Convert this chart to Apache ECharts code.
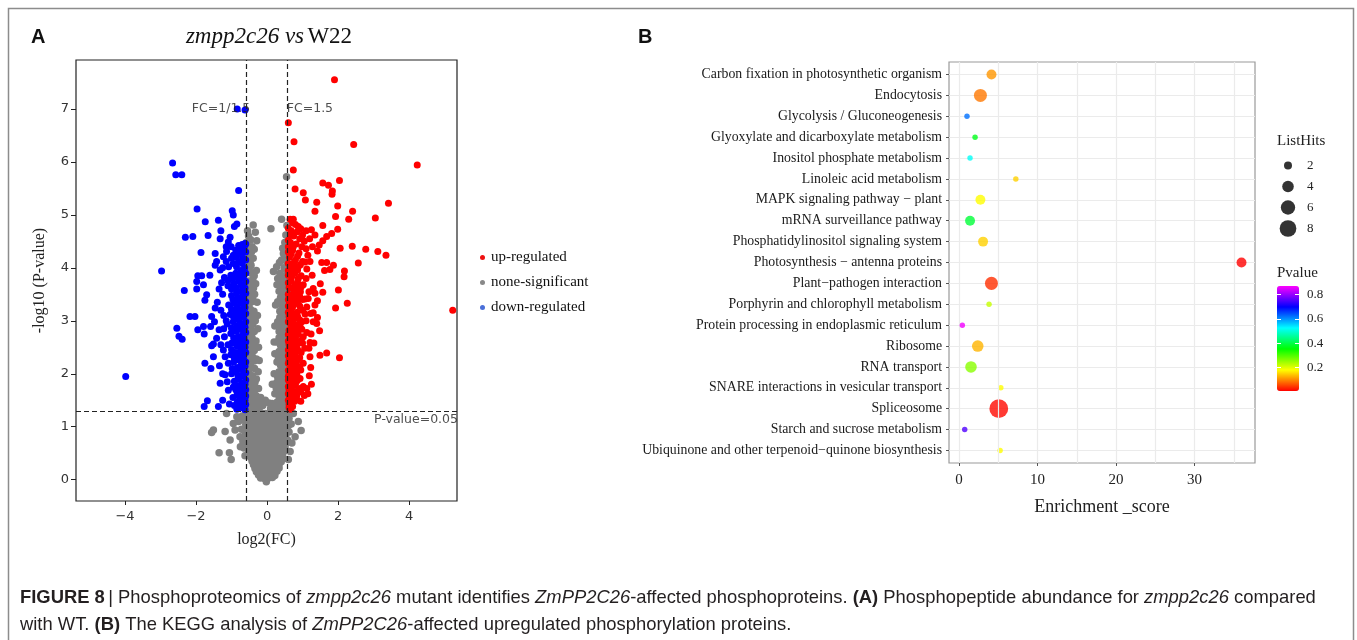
<!DOCTYPE html>
<html>
<head>
<meta charset="utf-8">
<script src="https://cdn.jsdelivr.net/npm/echarts@6/dist/echarts.min.js"></script>
<style>
html,body{margin:0;padding:0;background:#fff;}
#chart{width:1357px;height:640px;}
</style>
</head>
<body>
<div id="chart"></div>
<script>
// ---------- Panel A: volcano plot data (log2FC, -log10 P) ----------
const upRegulated = [
[1.90,7.55],[0.60,6.74],[0.76,6.38],[2.44,6.33],[4.23,5.94],[0.74,5.85],[1.57,5.60],[1.73,5.56],[2.04,5.65],[1.84,5.45],
[1.83,5.39],[0.79,5.49],[1.02,5.42],[1.08,5.28],[1.40,5.24],[3.42,5.22],[1.99,5.17],[1.35,5.07],[2.41,5.07],[3.05,4.94],
[2.30,4.92],[1.93,4.97],[1.57,4.80],[1.99,4.73],[1.82,4.65],[1.68,4.59],[1.57,4.51],[1.47,4.43],[1.42,4.32],[2.78,4.35],
[3.12,4.31],[3.35,4.24],[2.40,4.41],[2.06,4.37],[2.57,4.09],[2.18,3.94],[2.17,3.83],[1.21,4.12],[1.07,4.11],[1.54,4.10],
[1.68,4.10],[1.87,4.05],[1.77,3.97],[1.27,3.86],[1.30,3.61],[1.35,3.52],[1.57,3.54],[2.01,3.58],[1.16,3.42],[1.07,3.41],
[1.42,3.38],[2.26,3.33],[1.93,3.24],[5.23,3.20],[1.23,3.14],[1.07,3.13],[1.30,3.15],[1.42,3.06],[1.30,2.98],[1.24,2.75],
[1.48,2.81],[0.98,2.98],[0.93,2.89],[1.02,2.70],[1.21,2.59],[1.00,2.58],[1.49,2.35],[1.68,2.39],[2.04,2.30],[1.21,2.32],
[1.23,2.12],[0.95,2.07],[0.93,1.91],[1.19,1.96],[1.02,1.76],[1.05,1.59],[0.95,1.48],[0.70,1.52],
[0.72,4.85],[0.80,4.82],[0.88,4.78],[0.95,4.74],[0.68,4.70],[0.85,4.68],[1.00,4.62],[0.75,4.60],[0.92,4.55],[1.05,4.50],
[0.66,4.48],[0.82,4.45],[0.98,4.40],[1.10,4.36],[0.72,4.33],[0.90,4.28],[1.15,4.24],[0.63,4.20],[0.80,4.15],[1.00,4.12],
[0.70,4.05],[0.88,4.02],[1.12,3.98],[0.64,3.93],[0.78,3.90],[0.96,3.85],[1.10,3.80],[0.68,3.76],[0.86,3.72],[1.02,3.68],
[0.62,3.63],[0.76,3.58],[0.94,3.55],[1.18,3.55],[0.70,3.48],[0.84,3.45],[1.00,3.40],[0.63,3.36],[0.78,3.32],[0.92,3.28],
[1.12,3.26],[0.68,3.20],[0.85,3.16],[0.62,3.08],[0.76,3.04],[0.92,3.02],[1.10,3.00],[0.66,2.94],[0.82,2.90],[0.62,2.82],
[0.74,2.78],[0.88,2.74],[1.12,2.78],[0.66,2.68],[0.80,2.64],[0.94,2.62],[0.62,2.55],[0.74,2.50],[0.86,2.46],[1.06,2.48],
[0.65,2.40],[0.78,2.36],[0.92,2.30],[0.62,2.25],[0.72,2.20],[0.84,2.16],[1.02,2.20],[0.66,2.10],[0.78,2.04],[0.62,1.98],
[0.72,1.92],[0.86,1.88],[0.65,1.82],[0.78,1.78],[0.90,1.72],[0.62,1.70],[0.72,1.64],[0.84,1.60],[0.64,1.55],[0.78,1.48],
[0.62,1.42],[0.72,1.38],[0.66,1.33],[1.12,1.72],[1.15,1.62],[0.95,1.66],[1.25,1.80],[1.18,2.48],[1.32,2.58],[1.40,2.95],
[1.35,3.30],[1.50,3.70],[1.62,3.95],[1.28,4.40],[1.20,4.55],[1.35,4.62],[1.10,4.70],[1.25,4.72],
[0.60,4.75],[0.66,4.62],[0.60,4.52],[0.74,4.40],[0.60,4.30],[0.68,4.26],[0.86,4.22],[0.76,4.10],[0.94,4.06],[0.60,4.08],
[0.70,3.98],[0.86,3.96],[0.60,3.86],[0.70,3.84],[0.88,3.80],[0.78,3.68],[0.96,3.64],[0.60,3.72],[0.68,3.62],[0.86,3.60],
[0.60,3.50],[0.78,3.50],[0.92,3.46],[0.70,3.40],[0.86,3.36],[0.60,3.28],[0.72,3.26],[1.00,3.20],[0.78,3.12],[0.60,3.16],
[0.70,3.10],[0.86,3.08],[0.60,2.98],[0.74,2.96],[0.90,2.94],[0.70,2.86],[0.84,2.82],[0.98,2.84],[0.60,2.74],[0.80,2.72],
[0.70,2.60],[0.86,2.56],[0.60,2.62],[0.70,2.48],[0.80,2.42],[0.96,2.40],[0.60,2.34],[0.72,2.30],[0.86,2.26],[0.66,2.18],
[0.78,2.12],[0.92,2.12],[0.60,2.06],[0.72,2.00],[0.84,1.98],[0.60,1.88],[0.70,1.80],[0.82,1.84],[0.60,1.76],[0.68,1.70],
[0.80,1.66],[0.60,1.62],[0.70,1.56],[0.70,1.46],[0.60,1.50],[0.68,1.40],[0.62,1.36],[0.84,1.52],[0.60,1.95],[0.60,2.20],
[0.60,2.45],[0.60,3.40],[0.60,3.95],[0.60,4.40],[0.65,4.92],[0.74,4.92]
];
const downRegulated = [
[-0.84,7.00],[-0.62,6.98],[-2.66,5.98],[-2.57,5.76],[-2.40,5.76],[-0.80,5.46],[-1.97,5.11],[-0.98,5.08],[-0.95,5.00],[-1.37,4.90],
[-1.74,4.87],[-0.85,4.83],[-0.92,4.78],[-1.30,4.70],[-2.30,4.58],[-2.09,4.59],[-1.66,4.61],[-1.32,4.55],[-1.04,4.58],[-1.09,4.49],
[-1.01,4.40],[-1.14,4.31],[-0.62,4.46],[-1.86,4.29],[-1.46,4.27],[-1.23,4.21],[-0.95,4.24],[-0.81,4.27],[-2.97,3.94],[-1.95,3.85],
[-1.84,3.85],[-1.61,3.86],[-1.46,4.05],[-1.42,4.12],[-1.32,3.96],[-1.15,4.12],[-2.33,3.57],[-1.98,3.74],[-1.98,3.60],[-1.79,3.68],
[-1.70,3.49],[-1.75,3.39],[-2.17,3.08],[-2.03,3.08],[-2.54,2.86],[-2.48,2.71],[-2.39,2.65],[-1.95,2.83],[-1.77,2.75],[-1.79,2.89],
[-1.59,2.89],[-1.56,3.08],[-1.46,3.24],[-1.48,2.98],[-1.35,2.83],[-1.42,2.67],[-1.51,2.56],[-1.56,2.53],[-3.98,1.95],[-1.75,2.20],
[-1.58,2.10],[-1.34,2.15],[-1.51,2.32],[-1.32,1.82],[-1.18,1.98],[-1.09,1.69],[-1.68,1.49],[-1.77,1.38],[-1.37,1.38],[-1.25,1.50],
[-1.06,1.43],[-0.85,1.33],[-1.23,2.45],[-1.18,2.32],[-1.09,2.20],[-0.99,2.58],
[-0.64,4.40],[-0.75,4.36],[-0.88,4.33],[-0.68,4.18],[-0.80,4.12],[-0.95,4.08],[-1.08,4.02],[-0.63,4.00],[-0.74,3.95],[-0.88,3.90],
[-1.02,3.86],[-1.20,3.82],[-0.66,3.80],[-0.80,3.74],[-0.94,3.70],[-1.10,3.66],[-0.62,3.62],[-0.72,3.56],[-0.86,3.52],[-1.00,3.48],
[-1.25,3.50],[-0.66,3.42],[-0.78,3.38],[-0.92,3.33],[-1.08,3.30],[-0.62,3.25],[-0.74,3.20],[-0.88,3.16],[-1.04,3.12],[-1.22,3.10],
[-0.66,3.06],[-0.80,3.02],[-0.95,2.98],[-1.12,2.94],[-0.62,2.88],[-0.72,2.84],[-0.86,2.80],[-1.02,2.76],[-1.20,2.70],[-0.65,2.68],
[-0.78,2.62],[-0.92,2.58],[-1.10,2.55],[-0.62,2.50],[-0.74,2.45],[-0.88,2.40],[-1.02,2.36],[-0.66,2.30],[-0.80,2.26],[-0.94,2.22],
[-0.62,2.14],[-0.72,2.08],[-0.86,2.04],[-1.00,2.00],[-0.66,1.96],[-0.78,1.90],[-0.92,1.86],[-0.62,1.80],[-0.74,1.74],[-0.88,1.70],
[-0.66,1.62],[-0.80,1.58],[-0.96,1.55],[-0.62,1.50],[-0.74,1.45],[-0.66,1.38],[-0.62,1.32],[-1.35,3.60],[-1.28,3.72],[-1.40,3.35],
[-1.30,3.20],[-1.15,3.00],[-1.30,2.55],[-1.22,2.85],[-1.25,2.00],[-1.12,1.85],[-0.95,1.75],[-1.15,4.40],[-1.25,4.00],
[-0.60,4.45],[-0.70,4.44],[-0.80,4.42],[-0.60,4.30],[-0.72,4.26],[-0.86,4.20],[-1.00,4.18],[-0.60,4.15],[-0.70,4.08],[-0.86,4.02],
[-0.60,3.90],[-0.68,3.86],[-0.80,3.84],[-0.96,3.80],[-1.10,3.76],[-0.60,3.74],[-0.72,3.68],[-0.86,3.62],[-1.00,3.60],[-0.60,3.52],
[-0.68,3.48],[-0.82,3.44],[-0.96,3.40],[-0.60,3.36],[-0.70,3.32],[-0.84,3.26],[-1.00,3.22],[-0.60,3.14],[-0.68,3.12],[-0.80,3.10],
[-0.94,3.06],[-0.60,2.98],[-0.72,2.94],[-0.86,2.90],[-1.00,2.86],[-0.60,2.78],[-0.68,2.74],[-0.80,2.70],[-0.94,2.68],[-0.60,2.60],
[-0.70,2.56],[-0.84,2.52],[-1.00,2.46],[-0.60,2.40],[-0.68,2.36],[-0.80,2.34],[-0.92,2.30],[-0.60,2.22],[-0.72,2.18],[-0.84,2.12],
[-0.98,2.10],[-0.60,2.02],[-0.68,1.98],[-0.82,1.96],[-0.60,1.88],[-0.70,1.82],[-0.82,1.78],[-0.60,1.70],[-0.70,1.66],[-0.84,1.62],
[-0.60,1.58],[-0.70,1.52],[-0.84,1.46],[-0.60,1.42],[-0.70,1.36],[-0.80,1.40],[-0.92,1.40]
];
const noneSignificant = [
[0.55,5.72],[0.41,4.92],[0.11,4.74],[-0.39,4.81],[-0.33,4.67],[-0.46,4.53],[-0.29,4.51],[-0.53,4.24],[-0.39,4.18],[-0.48,4.09],
[0.53,4.62],[0.44,4.37],[0.46,4.27],[0.41,4.15],[0.27,4.02],[0.18,3.93],[-0.55,4.70],[-0.50,4.40],[0.50,4.48],[0.56,4.10],
[-0.55,3.95],[-0.45,3.90],[-0.36,3.85],[-0.52,3.75],[-0.42,3.70],[-0.56,3.60],[-0.46,3.55],[-0.35,3.50],[-0.53,3.42],[-0.43,3.36],
[-0.57,3.28],[-0.47,3.22],[-0.37,3.18],[-0.54,3.10],[-0.44,3.04],[-0.33,3.00],[-0.56,2.92],[-0.46,2.86],[-0.36,2.80],[-0.53,2.74],
[-0.42,2.68],[-0.31,2.62],[-0.56,2.56],[-0.46,2.50],[-0.36,2.44],[-0.52,2.38],[-0.41,2.32],[-0.30,2.28],[-0.56,2.20],[-0.46,2.14],
[-0.35,2.10],[-0.25,2.04],[-0.52,2.02],[-0.41,1.96],[-0.30,1.90],[-0.56,1.86],[-0.46,1.80],[-0.36,1.76],[-0.24,1.72],[-0.52,1.68],
[-0.41,1.62],[-0.30,1.58],[-0.18,1.55],[-0.56,1.52],[-0.46,1.46],[-0.35,1.42],[-0.24,1.38],[-0.52,1.34],[-0.12,1.40],
[-0.50,3.98],[-0.40,3.78],[-0.58,3.70],[-0.48,3.64],[-0.38,3.62],[-0.58,3.48],[-0.48,3.46],[-0.40,3.40],[-0.50,3.32],[-0.58,3.18],
[-0.42,3.12],[-0.50,3.00],[-0.58,3.02],[-0.40,2.94],[-0.50,2.80],[-0.58,2.66],[-0.47,2.62],[-0.38,2.56],[-0.50,2.46],[-0.58,2.30],
[-0.48,2.28],[-0.36,2.24],[-0.50,2.08],[-0.58,1.96],[-0.44,1.90],[-0.34,1.84],[-0.50,1.74],[-0.58,1.62],[-0.36,1.66],[-0.48,1.56],
[-0.40,1.50],[-0.58,1.42],[-0.30,1.48],[-0.44,1.38],[-0.30,1.34],[-0.20,1.46],[-0.56,4.00],[-0.45,4.05],[-0.56,4.15],[-0.44,4.30],
[-0.52,4.60],[-0.42,4.40],[-0.58,4.48],[-0.36,4.35],[-0.30,3.95],[-0.32,3.70],[-0.28,3.35],[-0.27,3.10],[-0.26,2.85],[-0.24,2.50],
[-0.22,2.25],
[0.52,3.98],[0.40,3.86],[0.30,3.80],[0.50,3.78],[0.56,3.66],[0.44,3.62],[0.34,3.56],[0.52,3.48],[0.42,3.42],[0.30,3.36],
[0.56,3.30],[0.46,3.24],[0.36,3.18],[0.52,3.10],[0.42,3.04],[0.30,2.98],[0.56,2.92],[0.46,2.86],[0.34,2.80],[0.52,2.72],
[0.40,2.66],[0.28,2.60],[0.56,2.54],[0.46,2.48],[0.34,2.42],[0.22,2.38],[0.52,2.34],[0.40,2.28],[0.28,2.22],[0.56,2.16],
[0.46,2.10],[0.34,2.04],[0.20,2.00],[0.52,1.96],[0.40,1.90],[0.28,1.84],[0.15,1.80],[0.56,1.76],[0.46,1.70],[0.34,1.66],
[0.22,1.62],[0.52,1.56],[0.40,1.50],[0.28,1.46],[0.14,1.44],[0.56,1.38],[0.46,1.34],[0.34,1.32],[0.05,1.45],[-0.05,1.50],
[0.48,4.00],[0.58,3.90],[0.36,3.90],[0.46,3.76],[0.38,3.70],[0.58,3.54],[0.48,3.52],[0.38,3.44],[0.58,3.40],[0.48,3.36],
[0.40,3.30],[0.58,3.18],[0.48,3.12],[0.36,3.06],[0.58,3.02],[0.48,2.98],[0.38,2.92],[0.58,2.80],[0.44,2.74],[0.34,2.68],
[0.58,2.64],[0.48,2.60],[0.38,2.54],[0.58,2.40],[0.46,2.38],[0.32,2.30],[0.58,2.26],[0.48,2.22],[0.38,2.16],[0.58,2.04],
[0.46,2.00],[0.30,1.94],[0.58,1.88],[0.48,1.82],[0.38,1.78],[0.26,1.72],[0.58,1.64],[0.46,1.60],[0.34,1.56],[0.58,1.48],
[0.50,1.44],[0.38,1.40],[0.24,1.36],[0.10,1.34],[0.58,4.30],[0.50,4.20],[0.56,4.40],[0.35,4.10],[0.56,4.80],[0.28,3.68],
[0.24,3.30],[0.22,2.90],[0.20,2.60],
[-0.58,1.25],[-0.45,1.26],[-0.32,1.24],[-0.18,1.27],[-0.05,1.25],[0.08,1.26],[0.22,1.24],[0.35,1.25],[0.48,1.27],[0.58,1.24],
[-0.64,1.18],[-0.52,1.19],[-0.40,1.17],[-0.28,1.18],[-0.15,1.19],[-0.02,1.17],[0.12,1.18],[0.25,1.19],[0.38,1.17],[0.50,1.19],[0.62,1.16],
[-0.62,1.12],[-0.50,1.10],[-0.38,1.13],[-0.25,1.11],[-0.12,1.12],[0.02,1.10],[0.15,1.13],[0.28,1.11],[0.42,1.12],[0.55,1.10],
[-0.60,1.04],[-0.48,1.05],[-0.36,1.03],[-0.24,1.04],[-0.12,1.05],[0.00,1.03],[0.12,1.04],[0.24,1.05],[0.36,1.03],[0.48,1.04],[0.60,1.02],
[-0.58,0.98],[-0.46,0.96],[-0.34,0.99],[-0.22,0.97],[-0.10,0.98],[0.03,0.96],[0.16,0.99],[0.28,0.97],[0.40,0.98],[0.52,0.96],
[-0.62,0.91],[-0.50,0.90],[-0.38,0.92],[-0.26,0.91],[-0.14,0.90],[-0.02,0.92],[0.10,0.91],[0.22,0.90],[0.34,0.92],[0.46,0.91],[0.58,0.90],
[-0.57,0.84],[-0.45,0.82],[-0.33,0.85],[-0.21,0.83],[-0.09,0.84],[0.03,0.82],[0.15,0.85],[0.27,0.83],[0.39,0.84],[0.52,0.82],
[-0.60,0.77],[-0.48,0.76],[-0.36,0.78],[-0.24,0.77],[-0.12,0.76],[0.00,0.78],[0.12,0.77],[0.24,0.76],[0.36,0.78],[0.48,0.77],[0.58,0.75],
[-0.55,0.70],[-0.43,0.68],[-0.31,0.71],[-0.19,0.69],[-0.07,0.70],[0.05,0.68],[0.17,0.71],[0.29,0.69],[0.41,0.70],[0.53,0.68],
[-0.56,0.63],[-0.44,0.62],[-0.32,0.64],[-0.20,0.63],[-0.08,0.62],[0.04,0.64],[0.16,0.63],[0.28,0.62],[0.40,0.64],[0.50,0.62],
[-0.52,0.56],[-0.40,0.55],[-0.28,0.57],[-0.16,0.54],[-0.04,0.56],[0.08,0.55],[0.20,0.57],[0.32,0.55],[0.44,0.56],[0.54,0.55],
[-0.50,0.49],[-0.38,0.48],[-0.26,0.50],[-0.14,0.49],[-0.02,0.48],[0.10,0.50],[0.22,0.49],[0.34,0.48],[0.44,0.50],
[-0.46,0.42],[-0.34,0.41],[-0.22,0.43],[-0.10,0.40],[0.02,0.42],[0.14,0.41],[0.26,0.43],[0.38,0.42],[0.47,0.40],
[-0.42,0.35],[-0.30,0.34],[-0.18,0.36],[-0.06,0.35],[0.06,0.34],[0.18,0.36],[0.30,0.35],[0.40,0.34],
[-0.38,0.28],[-0.26,0.27],[-0.14,0.29],[-0.02,0.27],[0.10,0.28],[0.22,0.27],[0.34,0.29],
[-0.34,0.21],[-0.22,0.22],[-0.10,0.20],[0.02,0.21],[0.14,0.22],[0.26,0.20],[0.34,0.22],
[-0.30,0.15],[-0.18,0.14],[-0.06,0.16],[0.06,0.14],[0.18,0.15],[0.28,0.16],
[-0.24,0.09],[-0.12,0.08],[0.00,0.10],[0.12,0.09],[0.22,0.08],
[-0.18,0.03],[-0.07,0.02],[0.04,0.03],[0.15,0.04],[-0.02,-0.04],
[-1.56,0.89],[-1.51,0.94],[-1.35,0.51],[-1.06,0.51],[-1.01,0.38],[-1.18,0.91],[-0.95,1.06],[-0.90,0.94],[-1.04,0.75],[-0.76,0.81],
[-0.85,1.19],[-1.14,1.25],[-0.70,1.20],[-0.72,0.95],[-0.68,0.72],[-0.65,0.60],[-0.62,0.45],[-0.80,1.10],[-0.75,0.62],
[0.88,1.10],[0.96,0.93],[0.79,0.81],[0.70,0.69],[0.65,0.53],[0.74,1.25],[0.68,1.05],[0.62,0.90],[0.60,0.38]
];
const fcThreshold = 0.585;   // log2(1.5)
const pThreshold = 1.301;    // -log10(0.05)
const volcanoXTicks = [-4, -2, 0, 2, 4];
const volcanoYTicks = [0, 1, 2, 3, 4, 5, 6, 7];

// ---------- Panel B: KEGG enrichment ----------
const pathways = [
'Carbon fixation in photosynthetic organism',
'Endocytosis',
'Glycolysis / Gluconeogenesis',
'Glyoxylate and dicarboxylate metabolism',
'Inositol phosphate metabolism',
'Linoleic acid metabolism',
'MAPK signaling pathway \u2212 plant',
'mRNA surveillance pathway',
'Phosphatidylinositol signaling system',
'Photosynthesis \u2212 antenna proteins',
'Plant\u2212pathogen interaction',
'Porphyrin and chlorophyll metabolism',
'Protein processing in endoplasmic reticulum',
'Ribosome',
'RNA transport',
'SNARE interactions in vesicular transport',
'Spliceosome',
'Starch and sucrose metabolism',
'Ubiquinone and other terpenoid\u2212quinone biosynthesis'
];
const enrichmentScore = [4.14,2.73,1.02,2.05,1.41,7.24,2.73,1.41,3.07,35.98,4.14,3.83,0.43,2.39,1.53,5.33,5.07,0.73,5.24];
const pValues = [0.11,0.09,0.62,0.37,0.52,0.15,0.18,0.39,0.15,0.01,0.04,0.22,0.86,0.13,0.26,0.18,0.015,0.75,0.18];
const listHits = [3,5,1,1,1,1,3,3,3,3,5,1,1,4,4,1,10,1,1];
const enrichTicks = [0, 10, 20, 30];
const enrichMinorGrid = [5, 15, 25, 35];
const hitsLegend = [2, 4, 6, 8];
const pvalueTicks = [0.2, 0.4, 0.6, 0.8];

const serif = "'Liberation Serif', 'Times New Roman', serif";
const dejavu = "'DejaVu Sans', sans-serif";
const capFont = "'Liberation Sans', Arial, sans-serif";
const bubbleSize = n => 6.15 * Math.sqrt(n) - 0.7;
const minus = v => (v < 0 ? '\u2212' + Math.abs(v) : String(v));

const bubbleData = pathways.map((p, i) => [enrichmentScore[i], i, pValues[i], listHits[i]]);

const chart = echarts.init(document.getElementById('chart'), null, {renderer: 'canvas'});
const capRich = {
  b: {fontFamily: capFont, fontSize: 18.4, fontWeight: 'bold', fill: '#231f20'},
  n: {fontFamily: capFont, fontSize: 18.4, fill: '#231f20'},
  i: {fontFamily: capFont, fontSize: 18.4, fontStyle: 'italic', fill: '#231f20'}
};
chart.setOption({
  animation: false,
  backgroundColor: '#ffffff',
  grid: [
    {left: 76, top: 60, width: 381, height: 441, show: true, borderColor: '#222', borderWidth: 1.2, backgroundColor: 'transparent'},
    {left: 949, top: 62, width: 306, height: 401, show: true, borderColor: '#9a9a9a', borderWidth: 1.2, backgroundColor: 'transparent'},
    {left: 1281, top: 155, width: 14, height: 84},
    {left: 1277, top: 286, width: 22, height: 105}
  ],
  xAxis: [
    {gridIndex: 0, type: 'value', min: -5.38, max: 5.35,
      axisLine: {show: false, onZero: false},
      axisTick: {show: true, customValues: volcanoXTicks, length: 4, lineStyle: {color: '#222'}},
      axisLabel: {customValues: volcanoXTicks, formatter: minus, fontFamily: dejavu, fontSize: 13, color: '#333', margin: 9},
      splitLine: {show: false},
      name: 'log2(FC)', nameLocation: 'middle', nameGap: 31,
      nameTextStyle: {fontFamily: serif, fontSize: 16, color: '#222'}},
    {gridIndex: 1, type: 'value', min: -1.27, max: 37.7,
      axisLine: {show: false, onZero: false},
      axisTick: {show: true, customValues: enrichTicks, length: 3, lineStyle: {color: '#555'}},
      axisLabel: {customValues: enrichTicks, fontFamily: serif, fontSize: 15, color: '#222', margin: 10},
      splitLine: {show: true, lineStyle: {color: '#ebebeb', width: 1.2}},
      name: 'Enrichment _score', nameLocation: 'middle', nameGap: 35,
      nameTextStyle: {fontFamily: serif, fontSize: 18, color: '#222'}},
    {gridIndex: 2, type: 'value', min: -1, max: 1, show: false},
    {gridIndex: 3, type: 'value', min: 0, max: 1, show: false}
  ],
  yAxis: [
    {gridIndex: 0, type: 'value', min: -0.403, max: 7.925,
      axisLine: {show: false, onZero: false},
      axisTick: {show: true, customValues: volcanoYTicks, length: 5, lineStyle: {color: '#222'}},
      axisLabel: {customValues: volcanoYTicks, formatter: minus, fontFamily: dejavu, fontSize: 13, color: '#333', margin: 7},
      splitLine: {show: false},
      name: '-log10 (P-value)', nameLocation: 'middle', nameGap: 28,
      nameTextStyle: {fontFamily: serif, fontSize: 16, color: '#222'}},
    {gridIndex: 1, type: 'value', min: -0.6, max: 18.6, inverse: true,
      axisLine: {show: false, onZero: false},
      axisTick: {show: true, customValues: pathways.map((p, i) => i), length: 3, lineStyle: {color: '#555'}},
      axisLabel: {customValues: pathways.map((p, i) => i), formatter: v => pathways[v], fontFamily: serif, fontSize: 13.8, color: '#1a1a1a', margin: 7},
      splitLine: {show: true, lineStyle: {color: '#ebebeb', width: 1.2}}},
    {gridIndex: 2, type: 'category', data: hitsLegend.map(String), position: 'right', inverse: true,
      axisLine: {show: false, onZero: false}, axisTick: {show: false}, splitLine: {show: false},
      axisLabel: {fontFamily: serif, fontSize: 13, color: '#222', margin: 12}},
    {gridIndex: 3, type: 'value', min: 0.009, max: 0.868, position: 'right', z: 10,
      axisLine: {show: false, onZero: false}, splitLine: {show: false},
      axisTick: {show: true, inside: true, customValues: pvalueTicks, length: 4, lineStyle: {color: '#ffffff', width: 1}},
      axisLabel: {customValues: pvalueTicks, fontFamily: serif, fontSize: 13, color: '#222', margin: 8}},
    {gridIndex: 3, type: 'value', min: 0.009, max: 0.868, position: 'left', z: 10,
      axisLine: {show: false, onZero: false}, splitLine: {show: false}, axisLabel: {show: false},
      axisTick: {show: true, inside: true, customValues: pvalueTicks, length: 4, lineStyle: {color: '#ffffff', width: 1}}}
  ],
  visualMap: {
    type: 'continuous', seriesIndex: 5, dimension: 2,
    min: 0.009, max: 0.868, calculable: false, realtime: false,
    itemWidth: 22, itemHeight: 105, left: 1277, top: 286, padding: 0,
    text: null, showLabel: false,
    inRange: {color: ['#ff0000', '#ffff00', '#00ff00', '#00ffff', '#0000ff', '#ff00ff']}
  },
  legend: {
    orient: 'vertical', left: 475, top: 245, itemGap: 10, itemWidth: 5, itemHeight: 5, icon: 'circle',
    textStyle: {fontFamily: serif, fontSize: 15, color: '#111', padding: [0, 0, 0, 1]},
    data: [
      {name: 'up-regulated', itemStyle: {color: '#ee1111'}},
      {name: 'none-significant', itemStyle: {color: '#888888'}},
      {name: 'down-regulated', itemStyle: {color: '#4a6fd8'}}
    ]
  },
  series: [
    {name: 'none-significant', type: 'scatter', xAxisIndex: 0, yAxisIndex: 0, data: noneSignificant,
      symbolSize: 7.5, itemStyle: {color: '#808080', opacity: 1}, z: 2},
    {name: 'up-regulated', type: 'scatter', xAxisIndex: 0, yAxisIndex: 0, data: upRegulated,
      symbolSize: 7, itemStyle: {color: '#ff0000', opacity: 1}, z: 3},
    {name: 'down-regulated', type: 'scatter', xAxisIndex: 0, yAxisIndex: 0, data: downRegulated,
      symbolSize: 7, itemStyle: {color: '#0000ff', opacity: 1}, z: 3},
    {name: 'thresholds', type: 'scatter', xAxisIndex: 0, yAxisIndex: 0, z: 5, symbolSize: 0, silent: true,
      data: [
        {value: [-fcThreshold, 7.01], label: {show: true, position: 'left', distance: 0, offset: [4, 0], formatter: 'FC=1/1.5'}},
        {value: [fcThreshold, 7.01], label: {show: true, position: 'right', distance: 0, offset: [-1, 0], formatter: 'FC=1.5'}},
        {value: [5.35, 1.127], label: {show: true, position: 'left', distance: 0, offset: [1, 0], formatter: 'P-value=0.05'}}
      ],
      label: {fontFamily: dejavu, fontSize: 12.5, color: '#222'},
      markLine: {silent: true, symbol: ['none', 'none'], label: {show: false},
        lineStyle: {color: '#222', type: [5, 3], width: 1.2},
        data: [{xAxis: -fcThreshold}, {xAxis: fcThreshold}, {yAxis: pThreshold}]}},
    {name: 'minorGrid', type: 'scatter', xAxisIndex: 1, yAxisIndex: 1, data: [], z: 1, silent: true,
      markLine: {silent: true, symbol: ['none', 'none'], label: {show: false},
        lineStyle: {color: '#ebebeb', type: 'solid', width: 1.2},
        data: enrichMinorGrid.map(v => ({xAxis: v}))}},
    {name: 'KEGG', type: 'scatter', xAxisIndex: 1, yAxisIndex: 1, data: bubbleData, z: 3,
      symbolSize: v => bubbleSize(v[3])},
    {name: 'ListHits', type: 'scatter', xAxisIndex: 2, yAxisIndex: 2, z: 3,
      data: hitsLegend.map(h => [0, String(h)]),
      symbolSize: v => bubbleSize(Number(v[1])), itemStyle: {color: '#000'}}
  ],
  graphic: [
    {type: 'rect', shape: {x: 8.5, y: 8.5, width: 1345, height: 660}, style: {fill: 'none', stroke: '#8c8c8c', lineWidth: 1.5}, silent: true},
    {type: 'text', style: {x: 31, y: 37, text: 'A', font: "bold 20px 'Liberation Sans', Arial, sans-serif", fill: '#111', verticalAlign: 'middle'}},
    {type: 'text', style: {x: 638, y: 37, text: 'B', font: "bold 20px 'Liberation Sans', Arial, sans-serif", fill: '#111', verticalAlign: 'middle'}},
    {type: 'text', style: {x: 269, y: 37, align: 'center', verticalAlign: 'middle',
      text: '{i|zmpp2c26 vs} {n|W22}',
      rich: {i: {fontFamily: serif, fontSize: 23, fontStyle: 'italic', fill: '#111'}, n: {fontFamily: serif, fontSize: 23, fill: '#111'}}}},
    {type: 'text', style: {x: 1277, y: 141, text: 'ListHits', font: "15px 'Liberation Serif', serif", fill: '#222', verticalAlign: 'middle'}},
    {type: 'text', style: {x: 1277, y: 273, text: 'Pvalue', font: "15px 'Liberation Serif', serif", fill: '#222', verticalAlign: 'middle'}},
    {type: 'text', style: {x: 20, y: 598, verticalAlign: 'middle',
      text: '{b|FIGURE 8} {n|| Phosphoproteomics of }{i|zmpp2c26}{n| mutant identifies }{i|ZmPP2C26}{n|-affected phosphoproteins. }{b|(A)}{n| Phosphopeptide abundance for }{i|zmpp2c26}{n| compared}',
      rich: capRich}},
    {type: 'text', style: {x: 20, y: 625, verticalAlign: 'middle',
      text: '{n|with WT. }{b|(B)}{n| The KEGG analysis of }{i|ZmPP2C26}{n|-affected upregulated phosphorylation proteins.}',
      rich: capRich}}
  ]
});
</script>
</body>
</html>
